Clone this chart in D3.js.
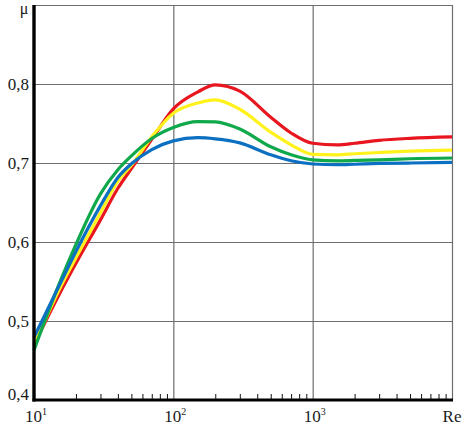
<!DOCTYPE html>
<html>
<head>
<meta charset="utf-8">
<script src="https://cdn.jsdelivr.net/npm/d3@7"></script>
<style>
body{margin:0;background:#fff}
text{font-family:"Liberation Serif","DejaVu Serif",serif;fill:#1a1a1a}
</style>
</head>
<body>
<div id="chart-area"></div>
<script>
// data
const reValues = [10,15,20,30,40,50,70,100,150,200,300,500,700,1000,1500,2000,3000,5000,10000]
const muRed = [0.470,0.532,0.573,0.628,0.668,0.693,0.730,0.7685,0.790,0.799,0.791,0.758,0.738,0.725,0.723,0.725,0.7287,0.7312,0.733]
const muYellow = [0.469,0.538,0.580,0.637,0.677,0.697,0.733,0.763,0.776,0.780,0.768,0.739,0.723,0.711,0.7104,0.7117,0.7133,0.715,0.7163]
const muGreen = [0.463,0.545,0.597,0.661,0.6915,0.709,0.731,0.745,0.7524,0.752,0.743,0.7205,0.7104,0.704,0.7028,0.7032,0.704,0.7054,0.7063]
const muBlue = [0.4795,0.543,0.588,0.646,0.6817,0.699,0.717,0.728,0.732,0.7306,0.7255,0.7104,0.7028,0.6987,0.6978,0.6984,0.6994,0.700,0.7007]
const yTicks = [0.4,0.5,0.6,0.7,0.8]
const xMajor = [10,100,1000]
const xExps = ['1','2','3']

const MARGIN = {LEFT:34, RIGHT:14, TOP:5, BOTTOM:25}
const W = 466, H = 425
const WIDTH = W - MARGIN.LEFT - MARGIN.RIGHT
const HEIGHT = H - MARGIN.TOP - MARGIN.BOTTOM

const svg = d3.select('#chart-area')
.append('svg')
.attr('width',W)
.attr('height',H)

const g = svg.append('g')
.attr('transform',`translate(${MARGIN.LEFT},${MARGIN.TOP})`)

const x = d3.scaleLog()
.domain([10,10000])
.range([0,WIDTH])

const y = d3.scaleLinear()
.domain([0.4,0.9])
.range([HEIGHT,0])

// grid
g.append('g')
.attr('class','grid')
.call(d3.axisLeft(y).tickValues([0.5,0.6,0.7,0.8,0.9]).tickSize(-WIDTH).tickFormat(''))
.call(a=>a.select('.domain').remove())
.selectAll('line').attr('stroke','#6e6e6e').attr('stroke-width',1.2)

g.append('g')
.attr('class','grid')
.call(d3.axisBottom(x).tickValues([100,1000,10000]).tickSize(HEIGHT).tickFormat(''))
.call(a=>a.select('.domain').remove())
.selectAll('line').attr('stroke','#6e6e6e').attr('stroke-width',1.2)

// minor ticks on bottom axis
const minor = []
for (let d=10; d<10000; d*=10) {
	for (let k=2; k<10; k++) minor.push(d*k)
}
g.append('g')
.attr('transform',`translate(0,${HEIGHT})`)
.call(d3.axisBottom(x).tickValues(minor).tickSize(-6).tickFormat(''))
.call(a=>a.select('.domain').remove())
.selectAll('line').attr('stroke','#111').attr('stroke-width',1)

// curves
const line = d3.line()
.x(d=>x(d[0]))
.y(d=>y(d[1]))
.curve(d3.curveMonotoneX)

const series = [
	{values:muRed, color:'#e8161f'},
	{values:muYellow, color:'#fff21c'},
	{values:muGreen, color:'#0fa84a'},
	{values:muBlue, color:'#0b70c1'}
]

series.forEach(s=>{
	g.append('path')
	.datum(reValues.map((r,i)=>[r,s.values[i]]))
	.attr('fill','none')
	.attr('stroke',s.color)
	.attr('stroke-width',3.2)
	.attr('stroke-linejoin','round')
	.attr('d',line)
})

// axes lines
g.append('line')
.attr('x1',0).attr('x2',0)
.attr('y1',0).attr('y2',HEIGHT+1.5)
.attr('stroke','#000').attr('stroke-width',3.4)

g.append('line')
.attr('x1',-1.5).attr('x2',WIDTH+1)
.attr('y1',HEIGHT).attr('y2',HEIGHT)
.attr('stroke','#000').attr('stroke-width',3)

// y labels
g.selectAll('.ylab')
.data(yTicks)
.enter().append('text')
.attr('class','ylab')
.attr('x',-5)
.attr('y',d=>y(d) - (d===0.4 ? 6 : 0))
.attr('dy','0.35em')
.attr('text-anchor','end')
.style('font-size','17px')
.text(d=>d3.format('.1f')(d).replace('.',','))

// x labels with exponents
xMajor.forEach((v,i)=>{
	const t = g.append('text')
	.attr('x',x(v)-9)
	.attr('y',HEIGHT+22)
	.style('font-size','17px')
	t.append('tspan').text('10')
	t.append('tspan')
	.attr('dy',-7)
	.style('font-size','10px')
	.text(xExps[i])
})

g.append('text')
.attr('x',WIDTH)
.attr('y',HEIGHT+22)
.attr('text-anchor','middle')
.style('font-size','17px')
.text('Re')

g.append('text')
.attr('x',-10)
.attr('y',9)
.attr('text-anchor','middle')
.style('font-size','16px')
.text('μ')
</script>
</body>
</html>
